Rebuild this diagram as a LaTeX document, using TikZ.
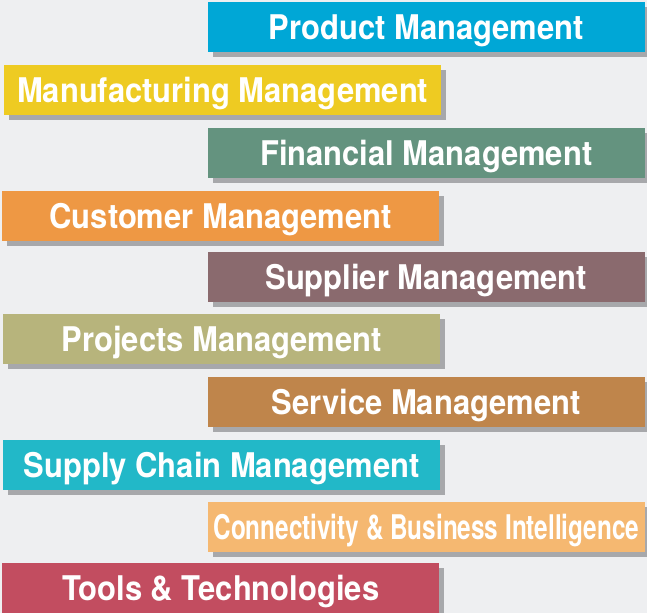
\documentclass[tikz,border=0pt]{standalone}
\usepackage{fontspec}
\newfontfamily\barfont{TeX Gyre Heros}[FakeStretch=0.91]
\newfontfamily\narrowfont{TeX Gyre Heros}[FakeStretch=0.715]
\usepackage{xcolor}
\usetikzlibrary{shadows,positioning}
\definecolor{bggray}{HTML}{EEEFF1}
\definecolor{shadowgray}{HTML}{A7A8AB}
\definecolor{productblue}{HTML}{00A7D6}
\definecolor{manufyellow}{HTML}{EECB22}
\definecolor{financegreen}{HTML}{64937F}
\definecolor{customerorange}{HTML}{EE9844}
\definecolor{suppliermauve}{HTML}{8A6A6E}
\definecolor{projectsolive}{HTML}{B7B47C}
\definecolor{servicebrown}{HTML}{BF854B}
\definecolor{supplycyan}{HTML}{22B8C8}
\definecolor{connectpeach}{HTML}{F5B871}
\definecolor{toolsred}{HTML}{C24D60}
\tikzset{
bar/.style={
  rectangle,
  minimum width=437bp,
  minimum height=50bp,
  inner sep=0pt,
  text=white,
  font=\barfont\bfseries\fontsize{34bp}{37bp}\selectfont,
  text height=24.4bp,
  text depth=0pt,
  drop shadow={shadow xshift=5bp, shadow yshift=-5bp, fill=shadowgray, opacity=1}
},
leftbar/.style={bar, anchor=west},
rightbar/.style={bar, anchor=east},
}

\begin{document}
\begin{tikzpicture}[x=1bp,y=-1bp]
  \fill[bggray] (0,0) rectangle (647,613);
  \useasboundingbox (0,0) rectangle (647,613);

  \node[rightbar, fill=productblue]    (product)  at (645,27)  {Product Management};
  \node[leftbar,  fill=manufyellow]    (manuf)    at (4,90)    {Manufacturing Management};
  \node[rightbar, fill=financegreen]   (finance)  at (645,153) {Financial Management};
  \node[leftbar,  fill=customerorange] (customer) at (2,216)   {Customer Management};
  \node[rightbar, fill=suppliermauve]  (supplier) at (645,277) {Supplier Management};
  \node[leftbar,  fill=projectsolive]  (projects) at (3,339)   {Projects Management};
  \node[rightbar, fill=servicebrown]   (service)  at (645,402) {Service Management};
  \node[leftbar,  fill=supplycyan]     (supply)   at (3,465)   {Supply Chain Management};
  \node[rightbar, fill=connectpeach,
        font=\narrowfont\bfseries\fontsize{34bp}{37bp}\selectfont]
                                       (connect)  at (645,527) {Connectivity \& Business Intelligence};
  \node[leftbar,  fill=toolsred]       (tools)    at (2,588)   {Tools \& Technologies};
\end{tikzpicture}
\end{document}
